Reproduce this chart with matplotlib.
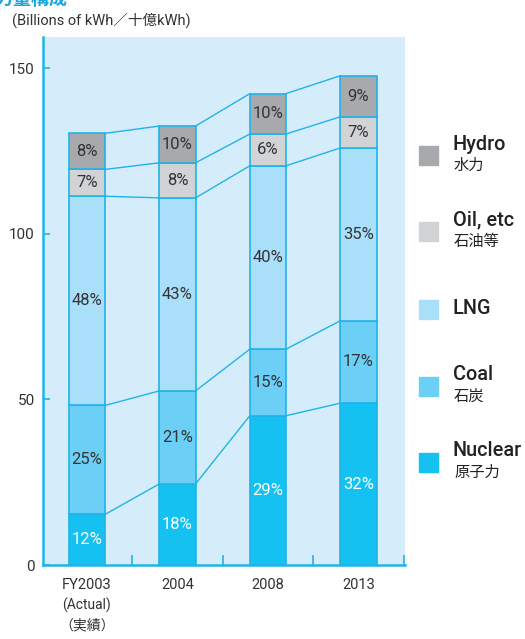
import numpy as np
import matplotlib
matplotlib.use("Agg")
from matplotlib import pyplot as plt
from matplotlib.patches import Rectangle

plt.rcParams['font.family'] = ['Roboto', 'Noto Sans CJK JP', 'DejaVu Sans']

years = ['FY2003', '2004', '2008', '2013']
nuclear = [15.3, 24.5, 45.1, 48.9]
coal = [32.9, 28.1, 20.1, 24.9]
lng = [63.2, 58.3, 55.4, 52.2]
oil = [8.1, 10.6, 9.6, 9.4]
hydro = [10.9, 11.1, 12.2, 12.4]

pct_nuclear = ['12%', '18%', '29%', '32%']
pct_coal = ['25%', '21%', '15%', '17%']
pct_lng = ['48%', '43%', '40%', '35%']
pct_oil = ['7%', '8%', '6%', '7%']
pct_hydro = ['8%', '10%', '10%', '9%']

names_en = ['Nuclear', 'Coal', 'LNG', 'Oil, etc', 'Hydro']
names_ja = ['原子力', '石炭', '', '石油等', '水力']

series = [nuclear, coal, lng, oil, hydro]
pcts = [pct_nuclear, pct_coal, pct_lng, pct_oil, pct_hydro]
colors = ['#14c1f1', '#6ccff6', '#aadffa', '#d1d3d4', '#a7a9ac']
txt_colors = ['white', '#333333', '#333333', '#333333', '#333333']

edge = '#20b3e8'
bg = '#d5edfa'
w = 0.4

fig = plt.figure(figsize=(5.25, 6.39), dpi=100)
ax = fig.add_axes([0.0819, 0.1158, 0.6895, 0.8263])
ax.set_facecolor(bg)

x = np.arange(len(years))
bottom = np.zeros(len(years))
tops = []
for vals, col, labs, tc in zip(series, colors, pcts, txt_colors):
    vals = np.array(vals)
    ax.bar(x, vals, w, bottom=bottom, color=col, edgecolor=edge, linewidth=1.2, zorder=3)
    for i in range(len(x)):
        ax.text(x[i], bottom[i] + vals[i] / 2, labs[i], ha='center', va='center',
                fontsize=12, color=tc, zorder=4)
    bottom = bottom + vals
    tops.append(bottom.copy())

# lines joining the same boundary on neighbouring bars
for t in tops:
    for i in range(len(x) - 1):
        ax.plot([x[i] + w / 2, x[i + 1] - w / 2], [t[i], t[i + 1]],
                color=edge, linewidth=1.0, zorder=2)

for s in ['top', 'right']:
    ax.spines[s].set_visible(False)
for s in ['left', 'bottom']:
    ax.spines[s].set_color(edge)
    ax.spines[s].set_linewidth(1.8)
    ax.spines[s].set_zorder(5)

ax.set_yticks([0, 50, 100, 150])
ax.tick_params(axis='y', direction='in', length=5, width=1.2, color=edge,
               labelsize=11, labelcolor='#333333', pad=6)
ax.set_xticks(x)
ax.set_xticklabels(years)
ax.tick_params(axis='x', length=0, labelsize=10.5, labelcolor='#333333', pad=9)
ax.set_xticks(x + 0.5, minor=True)
ax.tick_params(axis='x', which='minor', direction='in', length=7, width=1.2, color=edge)

ax.set_xlim(-0.486, 3.514)
ax.set_ylim(0, 159.5)

ax.text(0, -0.077, '(Actual)', transform=ax.get_xaxis_transform(), ha='center', va='center',
        fontsize=10, color='#333333')
ax.text(0, -0.115, '（実績）', transform=ax.get_xaxis_transform(), ha='center', va='center',
        fontsize=10, color='#333333', family=['Noto Sans CJK JP'])

fig.text(12 / 525, 1 - 20 / 639, '(Billions of kWh／十億kWh)', ha='left', va='center',
         fontsize=10.5, color='#333333')
fig.text(68 / 525, 1.0, '電力量構成', ha='right', va='center', fontsize=13,
         fontweight='bold', color='#1aa6e0')

# legend, drawn by hand to the right of the axes
ys = [462, 386, 309, 231, 155]
for yc, col, en, ja in zip(ys, colors, names_en, names_ja):
    fig.patches.append(Rectangle((419 / 525, 1 - (yc + 9.5) / 639), 19 / 525, 19 / 639,
                                 transform=fig.transFigure, color=col, figure=fig))
    if ja:
        fig.text(453 / 525, 1 - (yc - 11) / 639, en, ha='left', va='center', fontsize=14.3,
                 fontweight='medium', color='#222222')
        fig.text(454 / 525, 1 - (yc + 11) / 639, ja, ha='left', va='center', fontsize=11,
                 color='#222222')
    else:
        fig.text(453 / 525, 1 - yc / 639, en, ha='left', va='center', fontsize=14.3,
                 fontweight='medium', color='#222222')

fig.savefig('out.png', dpi=100)
